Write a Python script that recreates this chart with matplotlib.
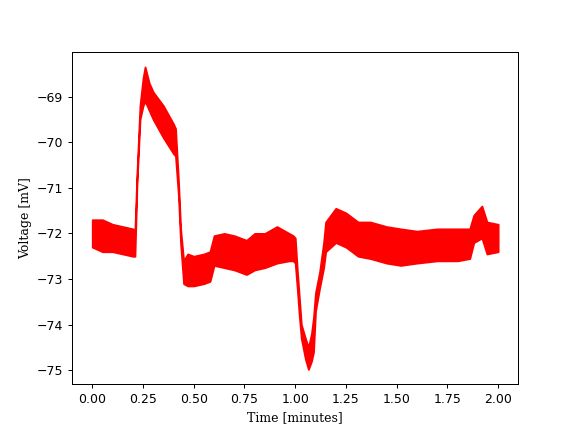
"""Voltage trace over time, drawn as the noise envelope of the recording."""
import matplotlib
matplotlib.use("Agg")
import matplotlib.pyplot as plt

# time [minutes] and upper / lower edge of the noisy trace [mV]
time_min = [0.00, 0.05, 0.10, 0.15, 0.20, 0.21, 0.22, 0.235, 0.25, 0.26,
            0.28, 0.30, 0.35, 0.40, 0.41, 0.425, 0.435, 0.45, 0.47, 0.50,
            0.55, 0.58, 0.60, 0.65, 0.70, 0.76, 0.80, 0.85, 0.91, 0.97,
            0.99, 1.00, 1.01, 1.02, 1.03, 1.05, 1.065, 1.08, 1.09, 1.10,
            1.12, 1.14, 1.15, 1.20, 1.25, 1.31, 1.37, 1.45, 1.52, 1.60,
            1.70, 1.80, 1.86, 1.88, 1.92, 1.945, 2.00]
v_upper = [-71.70, -71.70, -71.80, -71.85, -71.90, -71.95, -70.70, -69.20, -68.60, -68.35,
           -68.70, -68.90, -69.20, -69.60, -69.70, -70.90, -71.90, -72.60, -72.45, -72.50,
           -72.45, -72.40, -72.05, -72.00, -72.05, -72.15, -72.00, -72.00, -71.85, -72.00,
           -72.05, -72.10, -72.80, -73.40, -74.00, -74.30, -74.50, -74.20, -73.85, -73.30,
           -72.85, -72.20, -71.75, -71.45, -71.55, -71.75, -71.75, -71.85, -71.90, -71.95,
           -71.90, -71.90, -71.90, -71.60, -71.40, -71.75, -71.80]
v_lower = [-72.30, -72.40, -72.40, -72.45, -72.50, -72.50, -70.90, -69.50, -69.20, -69.10,
           -69.30, -69.50, -69.90, -70.25, -70.30, -71.20, -72.20, -73.10, -73.15, -73.15,
           -73.10, -73.05, -72.70, -72.75, -72.80, -72.90, -72.80, -72.75, -72.65, -72.60,
           -72.60, -72.65, -73.20, -73.80, -74.30, -74.75, -74.98, -74.80, -74.60, -73.70,
           -73.20, -72.75, -72.40, -72.20, -72.30, -72.50, -72.55, -72.65, -72.70, -72.65,
           -72.60, -72.60, -72.55, -72.20, -72.10, -72.45, -72.40]

fig, ax = plt.subplots(figsize=(6.4, 4.8), dpi=90)
ax.fill_between(time_min, v_lower, v_upper, facecolor="red", edgecolor="red", linewidth=1.5)
ax.margins(x=0.05, y=0.05)

ax.set_xlabel("Time [minutes]", family="serif")
ax.set_ylabel("Voltage [mV]", family="serif")

fig.savefig("out.png", dpi=90)
